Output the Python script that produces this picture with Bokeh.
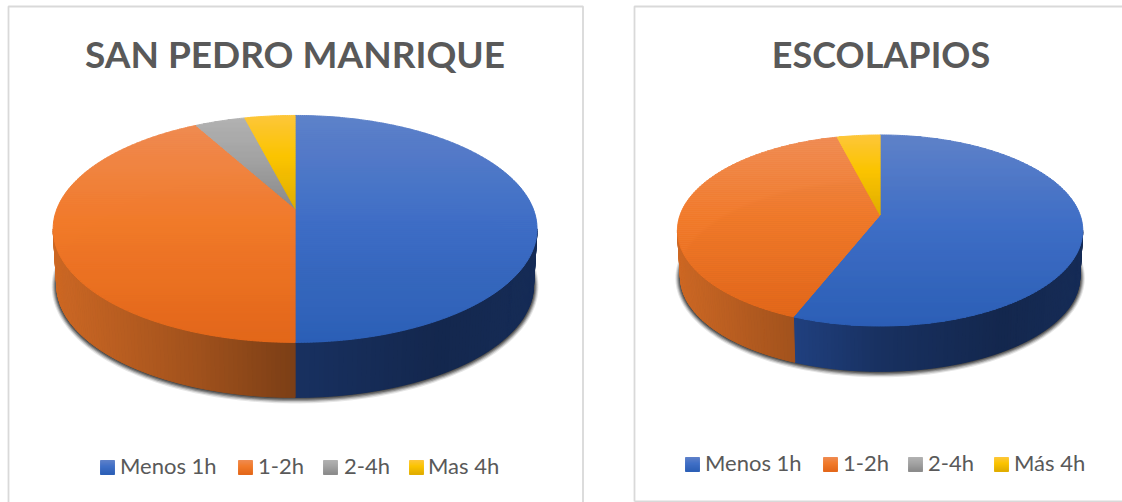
import numpy as np
from bokeh.plotting import figure
from bokeh.models import ColumnDataSource
from bokeh.core.properties import value
from bokeh.embed import file_html
from bokeh.resources import INLINE

# ---- data ----
titles_a = ["SAN PEDRO MANRIQUE"]
titles_b = ["ESCOLAPIOS"]
labels_a = ["Menos 1h", "1-2h", "2-4h", "Mas 4h"]
labels_b = ["Menos 1h", "1-2h", "2-4h", "Más 4h"]
values_a = [50, 42, 4, 4]
values_b = [56, 40, 0, 4]

# ---- colours: light / base / dark for the top face, base for the wall ----
TOP = [("#5f82c9", "#406fc6", "#2c5fb6"),
       ("#ef8b52", "#f17a2a", "#e3671a"),
       ("#b2b2b2", "#a3a3a3", "#8a8a8a"),
       ("#fdc63b", "#fbc400", "#e0ad00")]
WALL = ["#2f5fbd", "#f17a2a", "#a5a5a5", "#ffc000"]
WALL_T = [0, .29, .5, .8, 1]
WALL_M = [.85, .67, .51, .41, .46]
TEXT = "#595959"
FONT = "Lato"


def rgb(h):
    return np.array([int(h[i:i + 2], 16) for i in (1, 3, 5)], float)


def to_hex(c):
    return "#%02x%02x%02x" % tuple(int(round(min(255, max(0, v)))) for v in c)


def grad(stops, t):
    a, m, d = [rgb(s) for s in stops]
    if t < .45:
        return to_hex(a + (m - a) * t / .45)
    return to_hex(m + (d - m) * (t - .45) / .55)


def clip_band(pts, y0, y1):
    def clip(poly, inside, cross):
        out = []
        for i in range(len(poly)):
            p, q = poly[i], poly[(i + 1) % len(poly)]
            if inside(p):
                out.append(p)
            if inside(p) != inside(q):
                out.append(cross(p, q))
        return out

    def cr(level):
        return lambda p, q: (p[0] + (q[0] - p[0]) * (level - p[1]) / (q[1] - p[1]), level)

    r = clip(pts, lambda p: p[1] >= y0, cr(y0))
    if r:
        r = clip(r, lambda p: p[1] <= y1, cr(y1))
    return r


xs, ys, fills = [], [], []


def add(px, py, c):
    xs.append(list(px))
    ys.append(list(py))
    fills.append(c)


def pie(vals, cx, cy, a, b, e, depth, shrink):
    def proj(th, extra=0.0, sc=1.0, grow=0.0):
        s = 1 / (1 + e * np.cos(th))
        return (cx + (a * sc + grow) * np.sin(th) * s,
                cy + extra - (b * sc + grow) * np.cos(th) * s)

    total = sum(vals)
    edges = np.concatenate([[0], np.cumsum(vals)]) / total * 2 * np.pi
    vis0, vis1 = np.arccos(-e), 2 * np.pi - np.arccos(-e)
    left = cx - a / np.sqrt(1 - e * e)
    width = 2 * a / np.sqrt(1 - e * e)

    # soft shadow under the wall
    ring = np.linspace(0, 2 * np.pi, 240)
    sh = []
    for g, al in [(5, .12), (4, .2), (3, .3), (2, .42), (1, .55)]:
        px, py = proj(ring, depth, shrink, g)
        sh.append((px.tolist(), py.tolist(), al))

    # wall
    for i, v in enumerate(vals):
        if v == 0:
            continue
        t0, t1 = max(edges[i], vis0), min(edges[i + 1], vis1)
        if t1 <= t0:
            continue
        n = max(2, int((t1 - t0) * 60))
        th = np.linspace(t0, t1, n + 1)
        for j in range(n):
            seg = np.array([th[j], th[j + 1]])
            tx, ty = proj(seg)
            bx, by = proj(seg, depth, shrink)
            mid = (np.mean(tx) - left) / width
            c = rgb(WALL[i]) * np.interp(mid, WALL_T, WALL_M)
            add([tx[0], tx[1], bx[1], bx[0]], [ty[0], ty[1], by[1], by[0]], to_hex(c))

    # top face, banded vertically so that each slice carries its own gradient
    for i, v in enumerate(vals):
        if v == 0:
            continue
        th = np.linspace(edges[i], edges[i + 1], max(8, int(v * 6)))
        px, py = proj(th)
        pts = [(cx, cy)] + list(zip(px, py))
        ymin, ymax = min(p[1] for p in pts), max(p[1] for p in pts)
        y = ymin
        while y < ymax:
            r = clip_band(pts, y, min(y + 2, ymax))
            if len(r) >= 3:
                add([p[0] for p in r], [p[1] for p in r], grad(TOP[i], (y + 1 - ymin) / (ymax - ymin)))
            y += 2
    return sh


p = figure(width=1122, height=502, x_range=(0, 1122), y_range=(502, 0),
           output_backend="svg", toolbar_location=None, min_border=0)
p.axis.visible = False
p.grid.visible = False
p.outline_line_color = None
p.background_fill_color = "white"

# chart frames
p.multi_line(xs=[[8, 8, 582.5, 582.5], [634, 634, 1122], [634, 1122]],
             ys=[[502, 6, 6, 502], [501, 6, 6], [501, 501]],
             line_color="#d9d9d9", line_width=1.8)

shadows = pie(values_a, 294.6, 208, 238, 109.8, .18, 57, .985)
shadows += pie(values_b, 879.6, 214.5, 200, 93, .162, 47, .985)
for sx, sy, al in shadows:
    p.patch(sx, sy, fill_color="#303030", fill_alpha=al, line_color=None)

# legend swatches (banded like the slices)
legend_a = [(100, 460, 14), (238, 460, 14), (323, 460, 14), (409, 460, 14)]
legend_b = [(685, 457, 14), (823, 457, 14), (908, 457, 14), (994, 457, 14)]
for group in (legend_a, legend_b):
    for i, (lx, ly, sz) in enumerate(group):
        for k in range(sz):
            add([lx, lx + sz, lx + sz, lx], [ly + k, ly + k, ly + k + 1, ly + k + 1],
                grad(TOP[i], (k + .5) / sz))

src = ColumnDataSource(dict(xs=xs, ys=ys, fill=fills))
p.patches("xs", "ys", source=src, fill_color="fill", line_color="fill", line_width=1.0)

# titles
p.text(x=[294.5], y=[53], text=titles_a, text_font=value(FONT),
       text_font_style="bold", text_font_size="37px", text_color=TEXT,
       text_align="center", text_baseline="alphabetic")
p.text(x=[880.5], y=[53], text=titles_b, text_font=value(FONT),
       text_font_style="bold", text_font_size="36px", text_color=TEXT,
       text_align="center", text_baseline="alphabetic")

# legend texts
p.text(x=[119.5, 257.5, 343.5, 427.5], y=[465] * 4, text=labels_a, text_font=value(FONT),
       text_font_size="22px", text_color=TEXT, text_baseline="alphabetic")
p.text(x=[704.5, 842.5, 927.5, 1013.5], y=[462] * 4, text=labels_b, text_font=value(FONT),
       text_font_size="22px", text_color=TEXT, text_baseline="alphabetic")

open("out.html", "w").write(file_html(p, INLINE))
